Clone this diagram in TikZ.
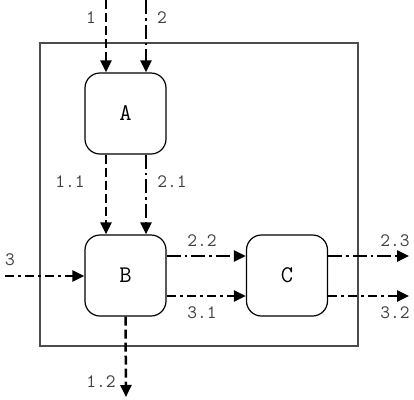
\documentclass[tikz,border=0pt]{standalone}
\usepackage{fontspec}
\usetikzlibrary{arrows.meta}
\begin{document}
\begin{tikzpicture}[x=1bp,y=-1bp,
  blk/.style={draw,line width=1.2bp,rounded corners=15bp,minimum width=81bp,minimum height=81bp,inner sep=0pt,font=\ttfamily\fontsize{24}{24}\selectfont},
  lbl/.style={font=\ttfamily\fontsize{19}{19}\selectfont,text=black!75,inner sep=0pt},
  flow/.style={line width=2.5bp,-{Triangle[length=12bp,width=11bp]}},
  sA/.style={flow,dash pattern=on 9bp off 4bp},
  sB/.style={flow,dash pattern=on 14bp off 4bp on 2.5bp off 4bp},
  sC/.style={flow,dash pattern=on 9bp off 4bp on 3bp off 4bp}]
\useasboundingbox (0,0) rectangle (414,400);
\node[draw,line width=1.2bp,black!70,minimum width=318bp,minimum height=303bp,inner sep=0pt] (frame) at (199,194.5) {};
\node[blk] (A) at (125.5,113.5) {A};
\node[blk] (B) at (125.5,275.5) {B};
\node[blk] (C) at (287,275.5) {C};
\coordinate (in1) at (106,0);
\coordinate (in2) at (146,0);
\coordinate (in3) at (5,276);
\coordinate (out12) at (126,397);
\coordinate (out23) at (409,256);
\coordinate (out32) at (409,296);
\draw[sA] (in1) -- (in1 |- A.north);
\draw[sB] (in2) -- (in2 |- A.north);
\draw[sA] (in1 |- A.south) -- (in1 |- B.north);
\draw[sB] (in2 |- A.south) -- (in2 |- B.north);
\draw[sC] (in3) -- (B.west |- in3);
\draw[sB] (B.east |- out23) -- (C.west |- out23);
\draw[sC] (B.east |- out32) -- (C.west |- out32);
\draw[sB] (C.east |- out23) -- (out23);
\draw[sC] (C.east |- out32) -- (out32);
\draw[sA] (B.south) -- (out12);
\node[lbl] (l1) at (91,18) {1};
\node[lbl] (l2) at (162,18) {2};
\node[lbl] (l11) at (70,182) {1.1};
\node[lbl] (l21) at (172,182) {2.1};
\node[lbl] (l3) at (10,260) {3};
\node[lbl] (l22) at (202,241) {2.2};
\node[lbl] (l31) at (202,313) {3.1};
\node[lbl] (l23) at (395,241) {2.3};
\node[lbl] (l32) at (395,313) {3.2};
\node[lbl] (l12) at (101,382) {1.2};
\end{tikzpicture}
\end{document}
